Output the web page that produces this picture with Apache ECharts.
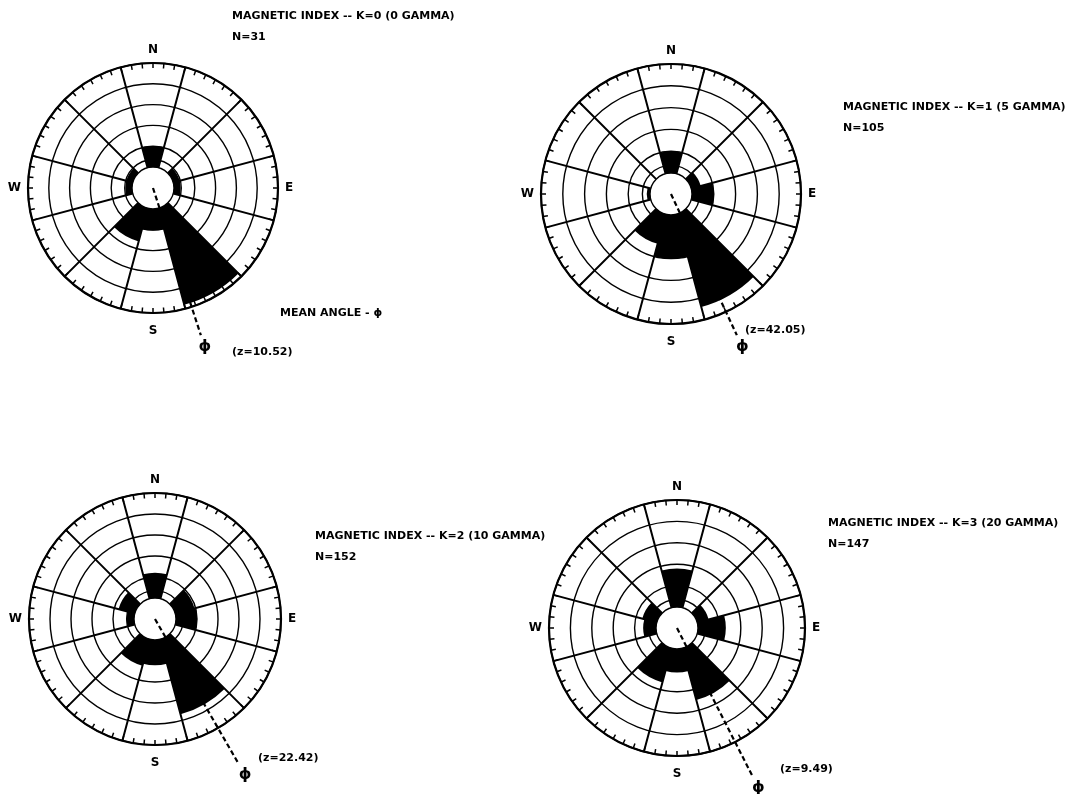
<!DOCTYPE html>
<html>
<head>
<meta charset="utf-8">
<style>
  html, body { margin: 0; padding: 0; background: #fff; }
  #chart { width: 1089px; height: 794px; }
</style>
<script src="https://cdn.jsdelivr.net/npm/echarts@6/dist/echarts.min.js"></script>
</head>
<body>
<div id="chart"></div>
<script>
// 12 direction classes, 30 deg wide, centred on N, 30, 60 ... (compass degrees)
const sectors = ['0', '30', '60', '90', '120', '150', '180', '210', '240', '270', '300', '330']

const pctK0 = [10, 0, 3.2, 3.2, 0, 48, 10.5, 16.5, 0, 3.2, 3.2, 0]
const pctK1 = [10, 0, 4.5, 10, 0, 44, 20, 14, 0, 1.5, 0, 0]
const pctK2 = [12, 0, 9.5, 10, 0, 37, 12, 13, 0, 3.5, 8, 0]
const pctK3 = [18, 0, 5.5, 13, 0, 25, 11, 16.5, 0, 6, 7, 0]

const kLabels = ['K=0 (0 GAMMA)', 'K=1 (5 GAMMA)', 'K=2 (10 GAMMA)', 'K=3 (20 GAMMA)']
const nObs = [31, 105, 152, 147]
const meanAngle = [162, 155, 150, 153]
const zValues = ['10.52', '42.05', '22.42', '9.49']

// rings of the rose (percent)
const ringValues = [0, 3.5, 10, 20, 30, 40, 50]
const compass = { 0: 'N', 90: 'E', 180: '{s|S}', 270: 'W' }

const FONT = '"DejaVu Sans", sans-serif'

// layout only: centre, outer radius, length of the mean-angle tail, text anchors
const roses = [
  { data: pctK0, cx: 153, cy: 188, r: 125, tail: 1.24, title: [232, 5.5], z: [232, 347] },
  { data: pctK1, cx: 671, cy: 194, r: 130, tail: 1.2, title: [843, 97], z: [745, 325] },
  { data: pctK2, cx: 155, cy: 619, r: 126, tail: 1.33, title: [315, 526], z: [258, 753] },
  { data: pctK3, cx: 677, cy: 628, r: 128, tail: 1.3, title: [828, 513], z: [780, 764] },
]

const polar = []
const angleAxis = []
const radiusAxis = []
const series = []
const graphic = []

roses.forEach((rose, i) => {
  const main = i * 3
  const frame = i * 3 + 1
  const tail = i * 3 + 2

  polar.push({ center: [rose.cx, rose.cy], radius: [21, rose.r] })
  polar.push({ center: [rose.cx, rose.cy], radius: [0, rose.r] })
  polar.push({ center: [rose.cx, rose.cy], radius: [0, rose.r * rose.tail] })

  angleAxis.push({
    polarIndex: main,
    type: 'category',
    data: sectors,
    startAngle: 105,
    boundaryGap: true,
    axisLine: { show: false },
    axisTick: { show: false },
    axisLabel: { show: false },
    splitLine: { show: true, lineStyle: { color: '#000', width: 2 } },
  })
  radiusAxis.push({
    polarIndex: main,
    type: 'value',
    min: 0,
    max: 50,
    interval: 10,
    axisLine: { show: false },
    axisTick: { show: false, customValues: ringValues },
    axisLabel: { show: false },
    splitLine: { show: true, lineStyle: { color: '#000', width: 1.4 } },
  })

  angleAxis.push({
    polarIndex: frame,
    type: 'value',
    min: 0,
    max: 360,
    interval: 5,
    startAngle: 90,
    axisLine: { show: true, lineStyle: { color: '#000', width: 2.2 } },
    axisTick: { show: true, inside: true, length: 5, lineStyle: { color: '#000', width: 1.5 } },
    axisLabel: {
      show: true,
      margin: 7,
      color: '#000',
      fontFamily: FONT,
      fontWeight: 'bold',
      fontSize: 12,
      formatter: (v) => compass[v] || '',
      rich: { s: { fontFamily: FONT, fontWeight: 'bold', fontSize: 12, padding: [5, 0, 0, 0] } },
    },
    splitLine: { show: false },
  })
  radiusAxis.push({ polarIndex: frame, type: 'value', min: 0, max: 1, show: false })

  // a hidden polar reaching past the frame, so the mean-angle tail is not clipped
  angleAxis.push({ polarIndex: tail, type: 'value', min: 0, max: 360, startAngle: 90, show: false })
  radiusAxis.push({ polarIndex: tail, type: 'value', min: 0, max: 1, show: false })

  series.push({
    type: 'bar',
    coordinateSystem: 'polar',
    polarIndex: main,
    data: rose.data,
    barCategoryGap: '0%',
    itemStyle: { color: '#000' },
    z: 3,
  })

  // mean angle, dashed from the centre outwards
  series.push({
    type: 'line',
    coordinateSystem: 'polar',
    polarIndex: tail,
    data: [[0, meanAngle[i]], [1, meanAngle[i]]],
    symbol: 'none',
    silent: true,
    lineStyle: { color: '#000', width: 2.2, type: [5, 3] },
    z: 4,
  })
  series.push({
    type: 'scatter',
    coordinateSystem: 'polar',
    polarIndex: frame,
    data: [[rose.tail + 0.1, meanAngle[i]]],
    symbol: 'circle',
    symbolSize: 1,
    clip: false,
    silent: true,
    itemStyle: { color: 'transparent', opacity: 1 },
    label: {
      show: true,
      position: 'inside',
      formatter: '\u03d5',
      color: '#000',
      fontFamily: FONT,
      fontWeight: 'bold',
      fontSize: 16,
    },
    z: 4,
  })

  graphic.push({
    type: 'text',
    left: rose.title[0],
    top: rose.title[1],
    style: {
      text: 'MAGNETIC INDEX -- ' + kLabels[i] + '\nN=' + nObs[i],
      font: 'bold 11px ' + FONT,
      lineHeight: 21,
      fill: '#000',
    },
  })
  graphic.push({
    type: 'text',
    left: rose.z[0],
    top: rose.z[1],
    style: { text: '(z=' + zValues[i] + ')', font: 'bold 11px ' + FONT, fill: '#000' },
  })
})

graphic.push({
  type: 'text',
  left: 280,
  top: 308,
  style: { text: 'MEAN ANGLE - \u03d5', font: 'bold 11px ' + FONT, fill: '#000' },
})

const chart = echarts.init(document.getElementById('chart'))
chart.setOption({
  animation: false,
  backgroundColor: '#fff',
  polar,
  angleAxis,
  radiusAxis,
  series,
  graphic,
})
</script>
</body>
</html>
